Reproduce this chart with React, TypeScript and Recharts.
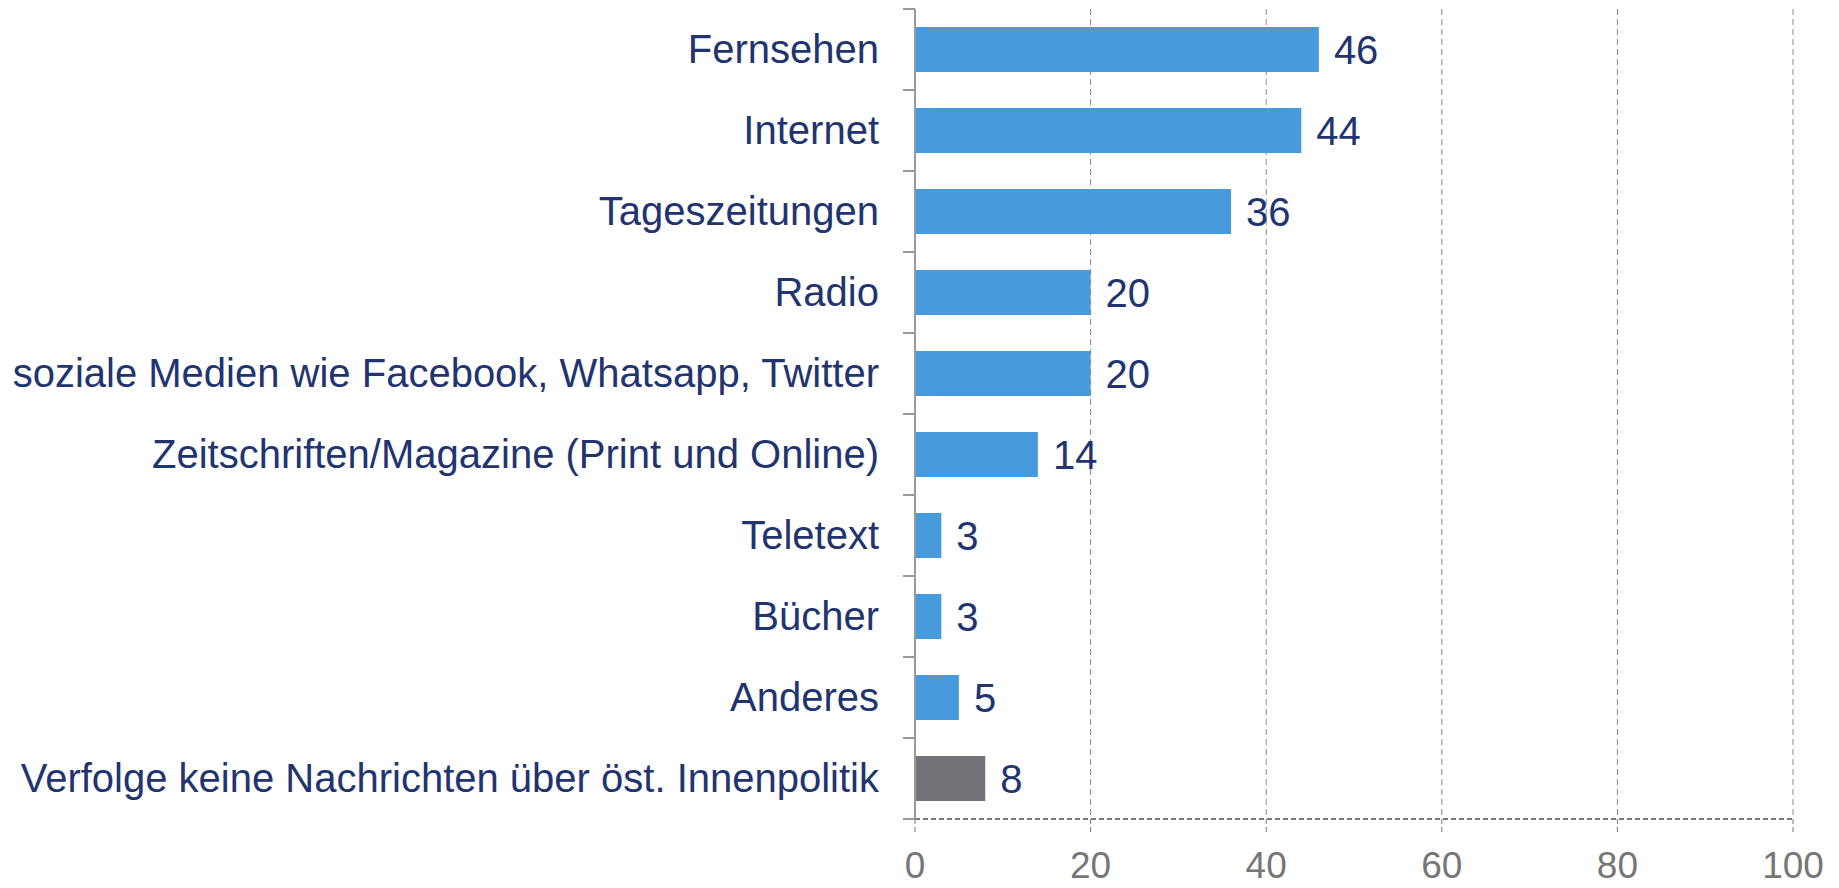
import { BarChart, Bar, XAxis, YAxis, CartesianGrid, Cell, LabelList } from 'recharts'

const CATEGORIES = [
  'Fernsehen',
  'Internet',
  'Tageszeitungen',
  'Radio',
  'soziale Medien wie Facebook, Whatsapp, Twitter',
  'Zeitschriften/Magazine (Print und Online)',
  'Teletext',
  'Bücher',
  'Anderes',
  'Verfolge keine Nachrichten über öst. Innenpolitik',
]
const VALUES = [46, 44, 36, 20, 20, 14, 3, 3, 5, 8]
const BAR_COLORS = ['#479bdc', '#479bdc', '#479bdc', '#479bdc', '#479bdc', '#479bdc', '#479bdc', '#479bdc', '#479bdc', '#737477']
const X_TICKS = [0, 20, 40, 60, 80, 100]

const NAVY = '#22346f'
const AXIS_GRAY = '#9a9a9a'
const FONT = '"Liberation Sans", Arial, sans-serif'

const data = CATEGORIES.map((name, i) => ({ name, value: VALUES[i] }))

function CategoryTick(props: any) {
  const { x, y, payload, index } = props
  const half = payload?.offset ? payload.offset : 40.5
  return (
    <g>
      <line x1={x - 12} x2={x} y1={y - half} y2={y - half} stroke={AXIS_GRAY} strokeWidth={2} />
      {index === CATEGORIES.length - 1 && (
        <line x1={x - 12} x2={x} y1={y + half} y2={y + half} stroke={AXIS_GRAY} strokeWidth={2} />
      )}
      <text x={x - 36} y={y} dy="0.33em" textAnchor="end" fill={NAVY} fontSize={40} fontFamily={FONT}>
        {payload.value}
      </text>
    </g>
  )
}

export default function App() {
  return (
    <div style={{ position: 'absolute', left: 0, top: 0, background: '#fff' }}>
      <BarChart
        width={1839}
        height={888}
        data={data}
        layout="vertical"
        margin={{ top: 9, right: 46, left: 0, bottom: 0 }}
        barSize={45}
      >
        <CartesianGrid horizontal={false} stroke="#8a8a8a" strokeDasharray="6 4" />
        <XAxis
          type="number"
          domain={[0, 100]}
          ticks={X_TICKS}
          height={69}
          axisLine={{ stroke: '#777', strokeDasharray: '5 3', strokeWidth: 2 }}
          tickLine={{ stroke: '#777', strokeDasharray: '5 3' }}
          tickSize={13}
          tickMargin={20}
          tick={{ fill: '#767676', fontSize: 37, fontFamily: FONT }}
        />
        <YAxis
          type="category"
          dataKey="name"
          width={915}
          axisLine={{ stroke: AXIS_GRAY, strokeWidth: 2 }}
          tickLine={false}
          tickSize={0}
          tickMargin={0}
          interval={0}
          tick={<CategoryTick />}
        />
        <Bar dataKey="value" isAnimationActive={false}>
          {data.map((d, i) => (
            <Cell key={d.name} fill={BAR_COLORS[i]} />
          ))}
          <LabelList dataKey="value" position="right" offset={15} fill={NAVY} fontSize={40} fontFamily={FONT} />
        </Bar>
      </BarChart>
    </div>
  )
}
